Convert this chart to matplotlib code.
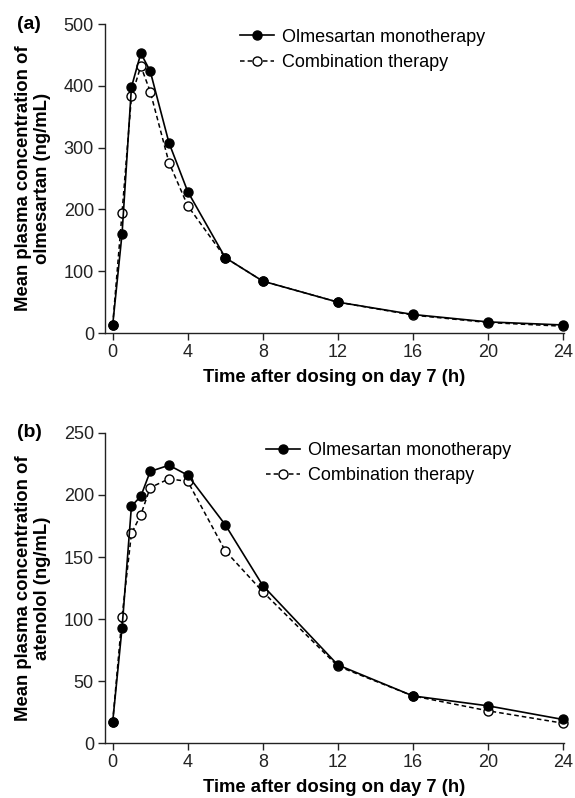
import matplotlib
matplotlib.use("Agg")
import matplotlib.pyplot as plt

plt.rcParams['font.family'] = ['Liberation Sans', 'DejaVu Sans']

# sampling times (h) on day 7
times = [0, 0.5, 1, 1.5, 2, 3, 4, 6, 8, 12, 16, 20, 24]

# (a) olmesartan, ng/mL
olm_mono = [13, 161, 398, 453, 424, 308, 229, 122, 84, 50, 30, 18, 13]
olm_combo = [13, 195, 383, 432, 391, 276, 206, 122, 84, 50, 29, 17, 11]

# (b) atenolol, ng/mL
ate_mono = [17, 93, 191, 199, 219, 224, 216, 176, 127, 63, 38, 30, 19]
ate_combo = [17, 102, 169, 184, 206, 213, 211, 155, 122, 62, 38, 26, 16]

xticks = [0, 4, 8, 12, 16, 20, 24]
labels = ['Olmesartan monotherapy', 'Combination therapy']
xlab = 'Time after dosing on day 7 (h)'


def draw_panel(ax, mono, combo, ymax, ystep, ylabel, tag, leg_anchor):
    ax.plot(times, combo, ls=(0, (3, 2)), color='black', lw=1.1, marker='o',
            ms=6.5, mfc='white', mec='black', mew=1.0, clip_on=False, zorder=3,
            label=labels[1])
    ax.plot(times, mono, ls='-', color='black', lw=1.2, marker='o',
            ms=6.5, mfc='black', mec='black', clip_on=False, zorder=4,
            label=labels[0])
    ax.set_xlim(-0.41, 24.05)
    ax.set_ylim(0, ymax)
    ax.set_xticks(xticks)
    ax.set_yticks(range(0, ymax + 1, ystep))
    for s in ['top', 'right']:
        ax.spines[s].set_visible(False)
    for s in ['left', 'bottom']:
        ax.spines[s].set_linewidth(1.0)
        ax.spines[s].set_color('#222222')
    ax.tick_params(direction='out', length=5, width=1.0, labelsize=13,
                   colors='#222222', pad=3)
    ax.set_xlabel(xlab, fontsize=13.3, fontweight='bold', labelpad=6)
    ax.set_ylabel(ylabel, fontsize=13.3, fontweight='bold', labelpad=9,
                  linespacing=1.2)
    ax.text(-0.192, 1.0, tag, transform=ax.transAxes, fontsize=14,
            fontweight='bold', va='center', ha='left')
    h, l = ax.get_legend_handles_labels()
    ax.legend(h[::-1], l[::-1], loc='upper left', bbox_to_anchor=leg_anchor,
              frameon=False, fontsize=13, handlelength=1.9, handletextpad=0.45,
              borderaxespad=0, labelspacing=0.45, borderpad=0)


fig = plt.figure(figsize=(5.75, 7.98), dpi=100)
ax1 = fig.add_axes([0.1826, 0.5827, 0.798, 0.387])
ax2 = fig.add_axes([0.1826, 0.0689, 0.798, 0.3885])

draw_panel(ax1, olm_mono, olm_combo, 500, 100,
           'Mean plasma concentration of\nolmesartan (ng/mL)', '(a)', (0.294, 0.985))
draw_panel(ax2, ate_mono, ate_combo, 250, 50,
           'Mean plasma concentration of\natenolol (ng/mL)', '(b)', (0.35, 0.97))

fig.savefig('out.png', dpi=100)
